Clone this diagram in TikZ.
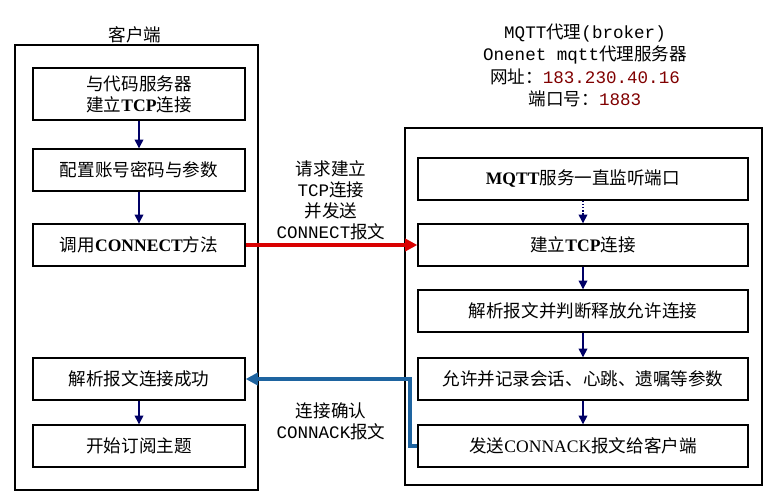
\documentclass[tikz,border=0pt]{standalone}
\usepackage{fontspec}
\setmainfont{Liberation Serif}
\setmonofont{Liberation Mono}
\newfontfamily\cjk{Noto Sans CJK SC}
\usetikzlibrary{arrows.meta}
\newcommand{\lat}[1]{{\rmfamily\bfseries #1}}
\newcommand{\tty}[1]{{\ttfamily #1}}
\definecolor{ackblue}{RGB}{30,100,160}

\begin{document}
\begin{tikzpicture}[x=0.02cm,y=-0.02cm,
  box/.style={draw,thick,minimum height=0.84cm,align=center,font=\cjk\fontsize{10}{12}\selectfont},
  lbox/.style={box,minimum width=4.24cm},
  rbox/.style={box,minimum width=6.6cm},
  flow/.style={-{Triangle[length=5pt,width=5pt]},thick,draw=blue!40!black},
  lbl/.style={align=center,font=\cjk\fontsize{10}{12}\selectfont,inner sep=1pt}]
\useasboundingbox (0,0) rectangle (780,500);
% panels
\draw[thick] (15,45) rectangle (258,490);
\draw[thick] (405,128) rectangle (762,485);
\node[lbl] (client) at (135,35) {客户端};
\node[lbl] (h1) at (585,33) {\tty{MQTT}代理\tty{(broker)}};
\node[lbl] (h2) at (585,55) {\tty{Onenet mqtt}代理服务器};
\node[lbl] (h3) at (585,77) {网址：\textcolor{red!50!black}{\tty{183.230.40.16}}};
\node[lbl] (h4) at (585,99) {端口号：\textcolor{red!50!black}{\tty{1883}}};
% client side
\node[lbox,minimum height=1.04cm] (c1) at (139,94) {与代码服务器\\建立\lat{TCP}连接};
\node[lbox] (c2) at (139,170) {配置账号密码与参数};
\node[lbox] (c3) at (139,245) {调用\lat{CONNECT}方法};
\node[lbox] (c4) at (139,379) {解析报文连接成功};
\node[lbox] (c5) at (139,446) {开始订阅主题};
\draw[flow] (c1) -- (c2);
\draw[flow] (c2) -- (c3);
\draw[flow] (c4) -- (c5);
% broker side
\node[rbox] (s1) at (583,179) {\lat{MQTT}服务一直监听端口};
\node[rbox] (s2) at (583,245) {建立\lat{TCP}连接};
\node[rbox] (s3) at (583,311) {解析报文并判断释放允许连接};
\node[rbox] (s4) at (583,379) {允许并记录会话、心跳、遗嘱等参数};
\node[rbox] (s5) at (583,446) {发送{\rmfamily CONNACK}报文给客户端};
\draw[flow,densely dotted] (s1) -- (s2);
\draw[flow] (s2) -- (s3);
\draw[flow] (s3) -- (s4);
\draw[flow] (s4) -- (s5);
% messages
\draw[-{Triangle[length=7pt,width=7pt]},line width=2pt,red!85!black] (c3) -- (s2);
\node[lbl] (req) at (331,200) {请求建立\\\tty{TCP}连接\\并发送\\\tty{CONNECT}报文};
\coordinate (turn1) at (410,446);
\coordinate (turn2) at (410,379);
\draw[-{Triangle[length=7pt,width=7pt]},line width=2pt,ackblue] (s5.west) -- (turn1) -- (turn2) -- (c4.east);
\node[lbl] (ack) at (331,421) {连接确认\\\tty{CONNACK}报文};
\end{tikzpicture}
\end{document}
